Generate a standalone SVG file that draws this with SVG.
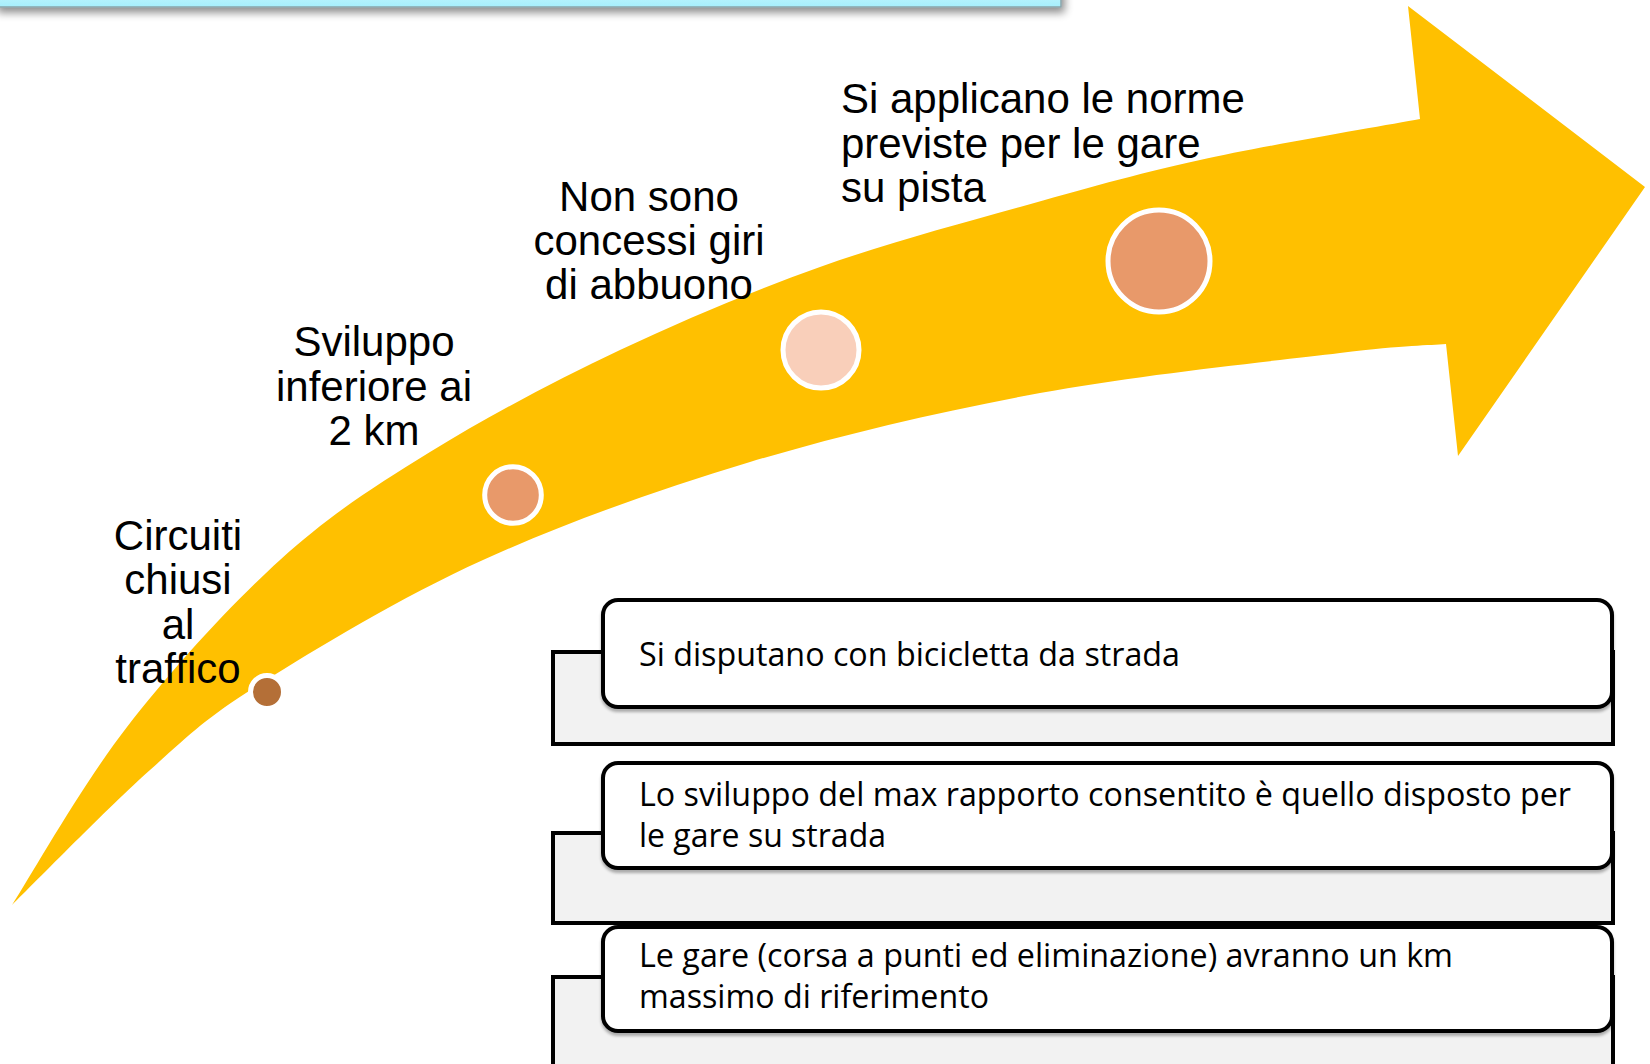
<svg xmlns="http://www.w3.org/2000/svg" width="1650" height="1064" viewBox="0 0 1650 1064">
<defs>
<linearGradient id="cyan" x1="0" y1="0" x2="0" y2="1">
<stop offset="0" stop-color="#d6fbff"/>
<stop offset="1" stop-color="#a6eefc"/>
</linearGradient>
<filter id="barShadow" x="-5%" y="-100%" width="110%" height="400%">
<feGaussianBlur in="SourceAlpha" stdDeviation="4"/>
<feOffset dx="3" dy="5" result="b"/>
<feComponentTransfer><feFuncA type="linear" slope="0.45"/></feComponentTransfer>
<feMerge><feMergeNode/><feMergeNode in="SourceGraphic"/></feMerge>
</filter>
<filter id="boxShadow" x="-2%" y="-10%" width="104%" height="125%">
<feGaussianBlur in="SourceAlpha" stdDeviation="1.5"/>
<feOffset dx="0" dy="3"/>
<feComponentTransfer><feFuncA type="linear" slope="0.3"/></feComponentTransfer>
<feMerge><feMergeNode/><feMergeNode in="SourceGraphic"/></feMerge>
</filter>
<style>
.lbl{font-family:"Liberation Sans",Arial,sans-serif;font-size:42px;fill:#000}
.c{text-anchor:middle}
.bt{font-family:"Open Sans","Noto Sans",sans-serif;font-size:33px;fill:#000}
.back{fill:#f2f2f2;stroke:#000;stroke-width:4}
.front{fill:#fff;stroke:#000;stroke-width:4}
.dot{stroke:#fff;stroke-width:5}
</style>
</defs>
<rect width="1650" height="1064" fill="#fff"/>
<g id="topbar" filter="url(#barShadow)">
<rect x="-5" y="-20" width="1066" height="27" fill="url(#cyan)" stroke="#8aa3a8" stroke-width="1.5"/>
</g>
<g id="arrow">
<path fill="#ffc000" d="M12,905 C31.2,875.3 82.3,784.5 127,727 C171.7,669.5 229.5,605.8 280,560 C330.5,514.2 373.3,487 430,452 C486.7,417 555,380.8 620,350 C685,319.2 753.3,290.8 820,267 C886.7,243.2 956.7,224.8 1020,207 C1083.3,189.2 1133.3,174.7 1200,160 C1266.7,145.3 1383.3,125.8 1420,119 L1408,6 L1645,187 L1458,456 L1446,344 C1428.3,345.5 1407.7,344.8 1340,353 C1272.3,361.2 1138.3,374.8 1040,393 C941.7,411.2 842.8,434.2 750,462 C657.2,489.8 564.7,523 483,560 C401.3,597 315.5,649 260,684 C204.5,719 191.3,733.2 150,770 C108.7,806.8 35,882.5 12,905 Z"/>
</g>
<g id="step1">
<circle class="dot" cx="267" cy="692" r="16.5" fill="#b46f37"/>
<text class="lbl c" x="178" y="549.5">Circuiti</text>
<text class="lbl c" x="178" y="594">chiusi</text>
<text class="lbl c" x="178" y="638.5">al</text>
<text class="lbl c" x="178" y="683">traffico</text>
</g>
<g id="step2">
<circle class="dot" cx="513" cy="495" r="28.3" fill="#e8996a"/>
<text class="lbl c" x="374" y="356">Sviluppo</text>
<text class="lbl c" x="374" y="400.5">inferiore ai</text>
<text class="lbl c" x="374" y="445">2 km</text>
</g>
<g id="step3">
<circle class="dot" cx="821" cy="350" r="38" fill="#f9cfba" stroke-width="5.5"/>
<text class="lbl c" x="649" y="211">Non sono</text>
<text class="lbl c" x="649" y="255">concessi giri</text>
<text class="lbl c" x="649" y="299">di abbuono</text>
</g>
<g id="step4">
<circle class="dot" cx="1159" cy="261" r="51" fill="#e8996a"/>
<text class="lbl" x="841" y="113">Si applicano le norme</text>
<text class="lbl" x="841" y="157.5">previste per le gare</text>
<text class="lbl" x="841" y="202">su pista</text>
</g>
<g id="connectors"></g>
<g id="box1">
<rect class="back" x="553" y="652" width="1060" height="92"/>
<rect class="front" x="603" y="600" width="1009" height="107" rx="15" filter="url(#boxShadow)"/>
<text class="bt" x="639" y="666" textLength="541" lengthAdjust="spacingAndGlyphs">Si disputano con bicicletta da strada</text>
</g>
<g id="box2">
<rect class="back" x="553" y="833" width="1060" height="90"/>
<rect class="front" x="603" y="763" width="1009" height="105" rx="15" filter="url(#boxShadow)"/>
<text class="bt" x="639" y="806" textLength="932" lengthAdjust="spacingAndGlyphs">Lo sviluppo del max rapporto consentito è quello disposto per</text>
<text class="bt" x="639" y="847" textLength="247" lengthAdjust="spacingAndGlyphs">le gare su strada</text>
</g>
<g id="box3">
<rect class="back" x="553" y="977" width="1060" height="110"/>
<rect class="front" x="603" y="927" width="1009" height="104" rx="15" filter="url(#boxShadow)"/>
<text class="bt" x="639" y="967" textLength="814" lengthAdjust="spacingAndGlyphs">Le gare (corsa a punti ed eliminazione) avranno un km</text>
<text class="bt" x="639" y="1008" textLength="350" lengthAdjust="spacingAndGlyphs">massimo di riferimento</text>
</g>
</svg>
